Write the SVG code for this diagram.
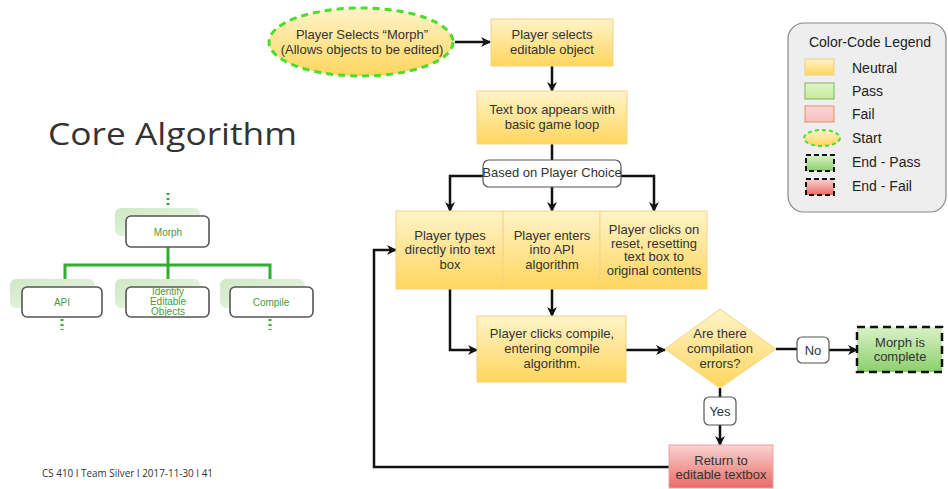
<svg xmlns="http://www.w3.org/2000/svg" width="948" height="489" viewBox="0 0 948 489">
  <defs>
    <linearGradient id="gNeutral" x1="0" y1="0" x2="0" y2="1">
      <stop offset="0" stop-color="#fff3c8"/>
      <stop offset="1" stop-color="#ffd65e"/>
    </linearGradient>
    <linearGradient id="gPass" x1="0" y1="0" x2="0" y2="1">
      <stop offset="0" stop-color="#d9f2c6"/>
      <stop offset="1" stop-color="#8ccf6c"/>
    </linearGradient>
    <linearGradient id="gFail" x1="0" y1="0" x2="0" y2="1">
      <stop offset="0" stop-color="#f9d3d1"/>
      <stop offset="1" stop-color="#ea6a66"/>
    </linearGradient>
    <linearGradient id="gFailSwatch" x1="0" y1="0" x2="0" y2="1">
      <stop offset="0" stop-color="#fbd6d4"/>
      <stop offset="1" stop-color="#f5c0be"/>
    </linearGradient>
    <linearGradient id="gPassSwatch" x1="0" y1="0" x2="0" y2="1">
      <stop offset="0" stop-color="#e0f5c8"/>
      <stop offset="1" stop-color="#c7ea9c"/>
    </linearGradient>
    <linearGradient id="gShadow" x1="0" y1="0" x2="1" y2="1">
      <stop offset="0" stop-color="#cfe8c4"/>
      <stop offset="1" stop-color="#eef8ea"/>
    </linearGradient>
    <marker id="arrow" viewBox="0 0 10 10" refX="9" refY="5" markerWidth="10" markerHeight="10" markerUnits="userSpaceOnUse" orient="auto">
      <path d="M0,0 L10,5 L0,10 L3,5 z" fill="#111"/>
    </marker>
  </defs>
  <style>
    .t { font-family: "Liberation Sans", Arial, sans-serif; font-size: 13px; fill: #333; text-anchor: middle; }
    .lg { font-family: "Liberation Sans", Arial, sans-serif; font-size: 14px; fill: #222; }
    .neutral { fill: url(#gNeutral); stroke: #f2d487; stroke-width: 1; }
    .label { fill: #fff; stroke: #555; stroke-width: 1.2; }
    .conn { fill: none; stroke: #111; stroke-width: 2.5; }
    .tree { fill: none; stroke: #2fae2f; stroke-width: 3; }
    .treedot { fill: none; stroke: #2fae2f; stroke-width: 3; stroke-dasharray: 2 3; }
    .shadowbox { fill: url(#gShadow); stroke: none; }
    .front { fill: #fff; stroke: #555; stroke-width: 1.6; }
    .tt { font-family: "Liberation Sans", Arial, sans-serif; font-size: 10px; fill: #4a9a3a; text-anchor: middle; }
  </style>

  <rect width="948" height="489" fill="#ffffff"/>

  <!-- title and footer -->
  <text x="48" y="145" font-family="'Open Sans', Lato, sans-serif" font-size="31" fill="#333" textLength="249" lengthAdjust="spacingAndGlyphs">Core Algorithm</text>
  <text x="42" y="477" font-family="'Open Sans', Lato, sans-serif" font-size="11" fill="#333" textLength="171" lengthAdjust="spacingAndGlyphs">CS 410 I Team Silver I 2017-11-30 I 41</text>

  <!-- small component tree -->
  <g id="mini-tree">
    <path class="treedot" d="M168,193 V207"/>
    <path class="tree" d="M168,247 V265 M65,280 V265 H270 V280 M168,265 V280"/>
    <path class="treedot" d="M62,319 V330 M270,319 V330"/>
    <g id="tree-morph">
      <rect class="shadowbox" x="115" y="208" width="85" height="28" rx="6"/>
      <rect class="front" x="126" y="216" width="83" height="31" rx="5"/>
      <text class="tt" x="168" y="236">Morph</text>
    </g>
    <g id="tree-api">
      <rect class="shadowbox" x="10" y="279" width="85" height="29" rx="6"/>
      <rect class="front" x="22" y="287" width="80" height="30" rx="5"/>
      <text class="tt" x="62" y="306">API</text>
    </g>
    <g id="tree-identify">
      <rect class="shadowbox" x="115" y="279" width="85" height="29" rx="6"/>
      <rect class="front" x="126" y="287" width="83" height="30" rx="5"/>
      <text class="tt" x="168" y="295">Identify</text>
      <text class="tt" x="168" y="305">Editable</text>
      <text class="tt" x="168" y="315">Objects</text>
    </g>
    <g id="tree-compile">
      <rect class="shadowbox" x="220" y="279" width="85" height="29" rx="6"/>
      <rect class="front" x="230" y="287" width="83" height="30" rx="5"/>
      <text class="tt" x="271" y="306">Compile</text>
    </g>
  </g>

  <!-- connectors -->
  <g id="connectors">
    <path class="conn" d="M455,42 H490" marker-end="url(#arrow)"/>
    <path class="conn" d="M552,66 V91" marker-end="url(#arrow)"/>
    <path class="conn" d="M552,144 V160"/>
    <path class="conn" d="M483,176 H450 V211" marker-end="url(#arrow)"/>
    <path class="conn" d="M552,187 V211" marker-end="url(#arrow)"/>
    <path class="conn" d="M621,176 H654 V211" marker-end="url(#arrow)"/>
    <path class="conn" d="M450,289 V350 H477" marker-end="url(#arrow)"/>
    <path class="conn" d="M552,289 V316" marker-end="url(#arrow)"/>
    <path class="conn" d="M626,350 H665" marker-end="url(#arrow)"/>
    <path class="conn" d="M776,349 H797"/>
    <path class="conn" d="M829,350 H857" marker-end="url(#arrow)"/>
    <path class="conn" d="M720,388 V397"/>
    <path class="conn" d="M720,425 V445" marker-end="url(#arrow)"/>
    <path class="conn" d="M669,467 H374 V250 H396" marker-end="url(#arrow)"/>
  </g>

  <!-- flow nodes -->
  <g id="start">
    <ellipse cx="361" cy="42" rx="92" ry="34" fill="url(#gNeutral)" stroke="#4cdc2c" stroke-width="3" stroke-dasharray="7 5"/>
    <text class="t" x="362" y="39">Player Selects “Morph”</text>
    <text class="t" x="362" y="54">(Allows objects to be edited)</text>
  </g>

  <g id="select-object">
    <rect class="neutral" x="491" y="19" width="122" height="47"/>
    <text class="t" x="552" y="39">Player selects</text>
    <text class="t" x="552" y="54">editable object</text>
  </g>

  <g id="text-box">
    <rect class="neutral" x="477" y="91" width="150" height="53"/>
    <text class="t" x="552" y="114">Text box appears with</text>
    <text class="t" x="552" y="129">basic game loop</text>
  </g>

  <g id="player-choice">
    <rect class="label" x="483" y="160" width="138" height="27" rx="6"/>
    <text class="t" x="552" y="176.5" font-size="11">Based on Player Choice</text>
  </g>

  <g id="types-directly">
    <rect class="neutral" x="396" y="211" width="107" height="78"/>
    <text class="t" x="450" y="239.5">Player types</text>
    <text class="t" x="450" y="254">directly into text</text>
    <text class="t" x="450" y="268.5">box</text>
  </g>

  <g id="enters-api">
    <rect class="neutral" x="503" y="211" width="97" height="78"/>
    <text class="t" x="552" y="239.5">Player enters</text>
    <text class="t" x="552" y="254">into API</text>
    <text class="t" x="552" y="268.5">algorithm</text>
  </g>

  <g id="clicks-reset">
    <rect class="neutral" x="600" y="211" width="107" height="78"/>
    <text class="t" x="654" y="234" font-size="11.5">Player clicks on</text>
    <text class="t" x="654" y="247.5" font-size="11.5">reset, resetting</text>
    <text class="t" x="654" y="261" font-size="11.5">text box to</text>
    <text class="t" x="654" y="274.5" font-size="11.5">original contents</text>
  </g>

  <g id="clicks-compile">
    <rect class="neutral" x="477" y="316" width="149" height="66"/>
    <text class="t" x="552" y="337.5">Player clicks compile,</text>
    <text class="t" x="552" y="353">entering compile</text>
    <text class="t" x="552" y="368">algorithm.</text>
  </g>

  <g id="compile-errors">
    <path d="M720,309 L776,349 L720,388 L665,349 Z" fill="url(#gNeutral)" stroke="#f2d487" stroke-width="1"/>
    <text class="t" x="720" y="337.5">Are there</text>
    <text class="t" x="720" y="353">compilation</text>
    <text class="t" x="720" y="368">errors?</text>
  </g>

  <g id="no-label">
    <rect class="label" x="797" y="337" width="32" height="26" rx="5"/>
    <text class="t" x="813" y="354.5">No</text>
  </g>

  <g id="morph-complete">
    <rect x="857" y="327" width="85" height="45" fill="url(#gPass)" stroke="#111" stroke-width="2.5" stroke-dasharray="8 5"/>
    <text class="t" x="900" y="347">Morph is</text>
    <text class="t" x="900" y="361">complete</text>
  </g>

  <g id="yes-label">
    <rect class="label" x="704" y="397" width="32" height="28" rx="5"/>
    <text class="t" x="720" y="415.5">Yes</text>
  </g>

  <g id="return-textbox">
    <rect x="669" y="445" width="104" height="43" fill="url(#gFail)" stroke="#e8a3a1" stroke-width="1"/>
    <text class="t" x="721" y="464.5">Return to</text>
    <text class="t" x="721" y="478.5">editable textbox</text>
  </g>

  <!-- colour legend -->
  <g id="legend">
    <rect x="788" y="23" width="158" height="189" rx="16" fill="#eeeeee" stroke="#888" stroke-width="1.2"/>
    <text class="lg" x="870" y="47" text-anchor="middle" font-size="13">Color-Code Legend</text>
    <rect x="805" y="59" width="29" height="16" fill="url(#gNeutral)" stroke="#f0cf80"/>
    <text class="lg" x="852" y="73">Neutral</text>
    <rect x="805" y="83" width="29" height="16" fill="url(#gPassSwatch)" stroke="#7bb85a"/>
    <text class="lg" x="852" y="96">Pass</text>
    <rect x="805" y="106" width="29" height="16" fill="url(#gFailSwatch)" stroke="#e3906a"/>
    <text class="lg" x="852" y="119">Fail</text>
    <ellipse cx="822" cy="138" rx="18" ry="8" fill="url(#gNeutral)" stroke="#4cdc2c" stroke-width="2" stroke-dasharray="4 3"/>
    <text class="lg" x="852" y="143">Start</text>
    <rect x="806" y="155" width="28" height="16" fill="url(#gPass)" stroke="#111" stroke-width="2" stroke-dasharray="5 3"/>
    <text class="lg" x="852" y="167">End - Pass</text>
    <rect x="806" y="179" width="28" height="16" fill="url(#gFail)" stroke="#111" stroke-width="2" stroke-dasharray="5 3"/>
    <text class="lg" x="852" y="191">End - Fail</text>
  </g>
</svg>
